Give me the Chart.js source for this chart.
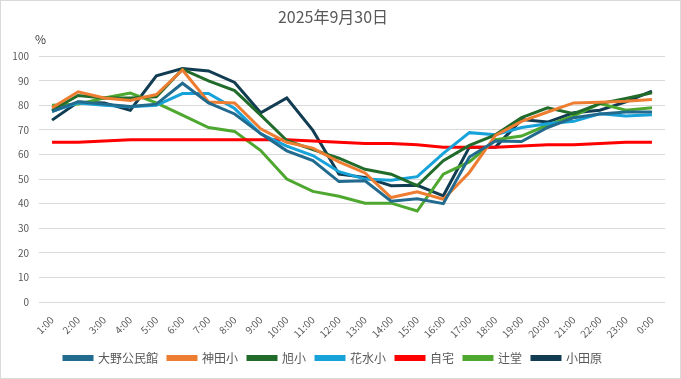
<!DOCTYPE html>
<html lang="ja">
<head>
<meta charset="UTF-8">
<title>2025年9月30日</title>
<script src="https://cdn.jsdelivr.net/npm/chart.js"></script>
<style>
  body { margin: 0; background: #fff; }
  .wrap { width: 681px; height: 379px; box-sizing: border-box; border: 1px solid #d9d9d9; background: #fff; }
</style>
</head>
<body>
<div class="wrap"><canvas id="chart" width="679" height="377"></canvas></div>
<script>
  // 時刻ラベル
  const hours = ["1:00", "2:00", "3:00", "4:00", "5:00", "6:00", "7:00", "8:00", "9:00", "10:00", "11:00", "12:00",
                 "13:00", "14:00", "15:00", "16:00", "17:00", "18:00", "19:00", "20:00", "21:00", "22:00", "23:00", "0:00"];

  // 各地点の値 (%)
  const oono     = [77.5, 81.5, 80.5, 79.5, 80.5, 89, 81, 76.5, 68.5, 61.5, 57.5, 49, 49.3, 41, 42, 40, 59, 65.5, 65.3, 71, 75, 76.5, 77.3, 77.3];
  const kanda    = [79, 85.5, 83, 82, 84.4, 94.4, 81.4, 81, 70.5, 65, 62.6, 57, 52.5, 42.5, 44.8, 41.8, 52.7, 67.8, 73.5, 77.3, 81, 81.3, 81.7, 82.4];
  const asahi    = [78, 84, 83, 83, 83.5, 94.7, 90, 86, 76, 65.7, 62, 58.5, 54, 52, 47.3, 57.5, 63.7, 68, 75, 79, 76.6, 80.7, 82.8, 85.1];
  const hanamizu = [77.6, 81, 80, 79.4, 80, 84.8, 84.8, 78.7, 68.4, 63.4, 59.6, 53, 50, 49.5, 51, 60.5, 68.9, 68, 71, 72.5, 73.5, 76.6, 75.7, 76.2];
  const jitaku   = [65, 65, 65.5, 66, 66, 66, 66, 66, 66, 66, 65.5, 65, 64.5, 64.5, 64, 63, 63, 63, 63.5, 64, 64, 64.5, 65, 65];
  const tsujido  = [80, 80.5, 83, 85, 81, 76, 71, 69.4, 61.6, 50, 45, 43, 40.2, 40.2, 37, 52, 57, 66, 67.5, 72, 75.7, 80.7, 78, 79];
  const odawara  = [74, 81.4, 81, 78, 92, 95, 94, 89.3, 77, 83, 69.8, 52, 50.7, 47.3, 47.5, 43.2, 63, 63, 74.2, 73.2, 77, 78, 81.4, 85.8];

  const yTicks = [0, 10, 20, 30, 40, 50, 60, 70, 80, 90, 100];

  const font = "'Noto Sans CJK JP', 'Liberation Sans', sans-serif";
  const textColor = "#595959";

  function series(label, data, color) {
    return {
      label: label,
      data: data,
      borderColor: color,
      backgroundColor: color,
      borderWidth: 3,
      pointRadius: 0,
      tension: 0,
      fill: false
    };
  }

  // "%" の単位表示
  const unitLabel = {
    id: "unitLabel",
    afterDraw(chart) {
      const ctx = chart.ctx;
      ctx.save();
      ctx.font = "12px " + font;
      ctx.fillStyle = "#404040";
      ctx.textBaseline = "middle";
      ctx.fillText("%", chart.chartArea.left - 4, chart.chartArea.top - 17);
      ctx.restore();
    }
  };

  new Chart(document.getElementById("chart"), {
    type: "line",
    data: {
      labels: hours,
      datasets: [
        series("大野公民館", oono, "#226b8e"),
        series("神田小", kanda, "#ed7d31"),
        series("旭小", asahi, "#216b2b"),
        series("花水小", hanamizu, "#17a2da"),
        series("自宅", jitaku, "#ff0000"),
        series("辻堂", tsujido, "#4ea72e"),
        series("小田原", odawara, "#113c52")
      ]
    },
    options: {
      responsive: false,
      animation: false,
      layout: { padding: { left: 0, right: 15, top: 0, bottom: 4 } },
      plugins: {
        title: {
          display: true,
          text: "2025年9月30日",
          color: textColor,
          font: { family: font, size: 16, weight: "normal" },
          padding: { top: 6, bottom: 30 }
        },
        legend: {
          position: "bottom",
          labels: {
            boxWidth: 28,
            boxHeight: 3,
            padding: 10,
            color: textColor,
            font: { family: font, size: 12 }
          }
        },
        tooltip: { enabled: false }
      },
      scales: {
        x: {
          offset: true,
          grid: { display: false },
          border: { display: false },
          ticks: {
            color: textColor,
            font: { family: font, size: 10 },
            minRotation: 45,
            maxRotation: 45,
            autoSkip: false,
            padding: 4
          },
          afterFit(scale) { scale.height = 40; }
        },
        y: {
          min: 0,
          max: 100,
          afterBuildTicks(scale) { scale.ticks = yTicks.map(v => ({ value: v })); },
          grid: { color: "#d9d9d9", lineWidth: 1, drawTicks: false },
          border: { display: false },
          ticks: {
            color: textColor,
            font: { family: font, size: 10 },
            padding: 10
          },
          afterFit(scale) { scale.width = 38; }
        }
      }
    },
    plugins: [unitLabel]
  });
</script>
</body>
</html>
